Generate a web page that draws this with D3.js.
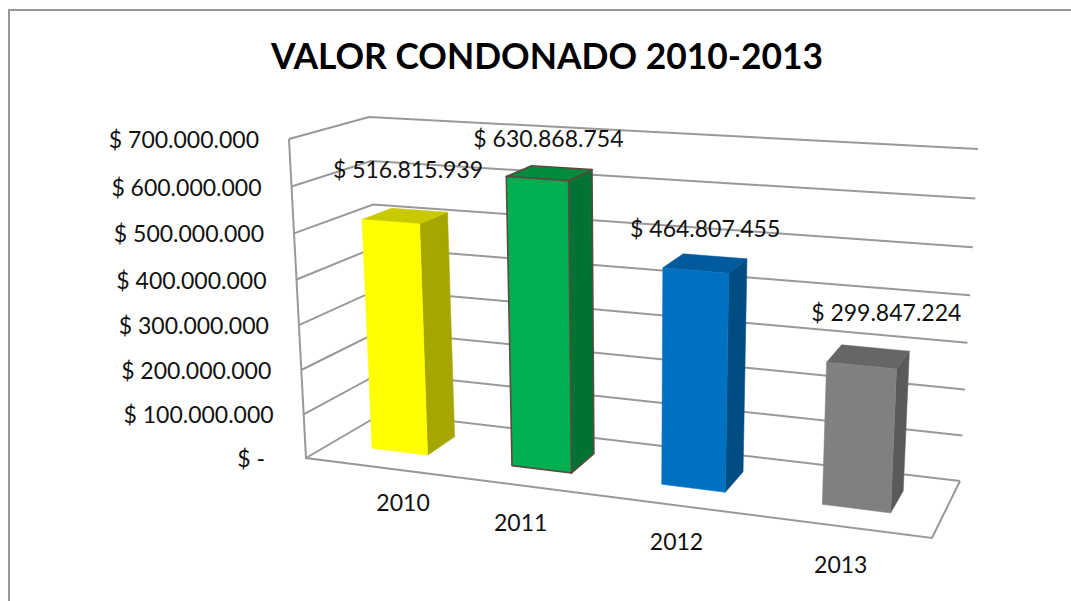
<!DOCTYPE html>
<html><head><meta charset="utf-8">
<style>html,body{margin:0;padding:0;background:#fff}svg{display:block}</style>
<script src="https://cdn.jsdelivr.net/npm/d3@7/dist/d3.min.js"></script>
</head><body><svg id="c" width="1071" height="601"></svg>
<script>
const titleText = "VALOR CONDONADO 2010-2013";
const years = ["2010","2011","2012","2013"];
const values = [516815939,630868754,464807455,299847224];
const valueLabels = ["$ 516.815.939","$ 630.868.754","$ 464.807.455","$ 299.847.224"];
const tickValues = [0,100000000,200000000,300000000,400000000,500000000,600000000,700000000];
const tickLabels = ["$ -","$ 100.000.000","$ 200.000.000","$ 300.000.000","$ 400.000.000","$ 500.000.000","$ 600.000.000","$ 700.000.000"];
const faceColors = ["#ffff00","#00b050","#0070c0","#808080"];
const sideColors = ["#a6a600","#007233","#004d84","#5a5a5a"];
const topColors = ["#c9c900","#008a3e","#005a9c","#666666"];
const edgeColors = ["none","#5a4a3f","none","none"];

const FONT = "Lato, 'Open Sans', sans-serif";
const svg = d3.select("#c");

// plot box corners as seen in the 3D projection
const box = {
  fbl:[306,458], fbr:[932,538], bbl:[383,413], bbr:[960,481],
  ftl:[289,139], ftr:[948,181], btl:[369,117], btr:[978,149]
};
const persp = (t,b)=> t/((1-b)+b*t);
const yVal = d3.scaleLinear().domain([0,700000000]).range([0,1]);
const xBand = d3.scaleBand().domain(years).range([0,1]).paddingInner(0.595).paddingOuter(0.2975).align(0.51);
const depthFront = 0.33, depthBack = 0.72;
const lerp = (a,b,t)=>[a[0]+(b[0]-a[0])*t, a[1]+(b[1]-a[1])*t];
function project(u,val,d){
  const uu = persp(u,-0.149), vv = persp(yVal(val),-0.05);
  const floor = lerp(lerp(box.fbl,box.fbr,uu), lerp(box.bbl,box.bbr,uu), d);
  const top = lerp(lerp(box.ftl,box.ftr,uu), lerp(box.btl,box.btr,uu), d);
  return lerp(floor,top,vv);
}
const line = d3.line();
const GRID = "#999999";

// chart frame: runs off the page at the right and bottom
svg.append("path").attr("d",line([[9,601],[9,10],[1071,10]]))
  .attr("fill","none").attr("stroke","#979797").attr("stroke-width",2);

// gridlines on side wall and back wall
svg.append("g").selectAll("path").data(tickValues).join("path")
  .attr("d",v=>line([project(0,v,0),project(0,v,1),project(1,v,1)]))
  .attr("fill","none").attr("stroke",GRID).attr("stroke-width",2);
// axis edge and floor
svg.append("path").attr("d",line([project(0,700000000,0),project(0,0,0),project(1,0,0),project(1,0,1)]))
  .attr("fill","none").attr("stroke",GRID).attr("stroke-width",2);

// bars
const bars = svg.append("g").selectAll("g").data(years).join("g");
bars.each(function(y,i){
  const g = d3.select(this), v = values[i];
  const u0 = xBand(y), u1 = u0+xBand.bandwidth();
  const face = (pts,fill)=>g.append("path").attr("d",line(pts)+"Z").attr("fill",fill)
     .attr("stroke",edgeColors[i]==="none"?fill:edgeColors[i])
     .attr("stroke-width",edgeColors[i]==="none"?0.5:1.6).attr("stroke-linejoin","round");
  face([project(u1,0,depthFront),project(u1,0,depthBack),project(u1,v,depthBack),project(u1,v,depthFront)],sideColors[i]);
  face([project(u0,v,depthFront),project(u1,v,depthFront),project(u1,v,depthBack),project(u0,v,depthBack)],topColors[i]);
  face([project(u0,0,depthFront),project(u1,0,depthFront),project(u1,v,depthFront),project(u0,v,depthFront)],faceColors[i]);
});

// tick labels follow the slanted axis; the "$ -" label sits further from it
svg.append("g").selectAll("text").data(tickValues).join("text")
  .attr("x",v=>project(0,v,0)[0]-(v===0?41:30)).attr("y",v=>project(0,v,0)[1]+9)
  .attr("text-anchor","end").attr("font-family",FONT).attr("font-size",23).attr("fill","#111")
  .text((v,i)=>tickLabels[i]);

// category labels (first one sits further right, as in the original)
const catShift = [[27,36],[-1,37],[-1,37],[-4,38]];
svg.append("g").selectAll("text").data(years).join("text")
  .attr("x",(y,i)=>project(xBand(y)+xBand.bandwidth()/2,0,0)[0]+catShift[i][0])
  .attr("y",(y,i)=>project(xBand(y)+xBand.bandwidth()/2,0,0)[1]+catShift[i][1]+8)
  .attr("text-anchor","middle").attr("font-family",FONT).attr("font-size",23).attr("fill","#111")
  .text(y=>y);

// value labels (hand placed in the original)
const valueShift = [[3,-46],[-1,-34],[0,-34],[18,-44]];
svg.append("g").selectAll("text").data(years).join("text")
  .attr("x",(y,i)=>project(xBand(y)+xBand.bandwidth()/2,values[i],(depthFront+depthBack)/2)[0]+valueShift[i][0])
  .attr("y",(y,i)=>project(xBand(y)+xBand.bandwidth()/2,values[i],(depthFront+depthBack)/2)[1]+valueShift[i][1]+8)
  .attr("text-anchor","middle").attr("font-family",FONT).attr("font-size",23).attr("fill","#111")
  .text((y,i)=>valueLabels[i]);

svg.append("text").attr("x",547).attr("y",69).attr("text-anchor","middle")
  .attr("font-family",FONT).attr("font-weight",700).attr("font-size",35.4).attr("fill","#000").text(titleText);
</script></body></html>
